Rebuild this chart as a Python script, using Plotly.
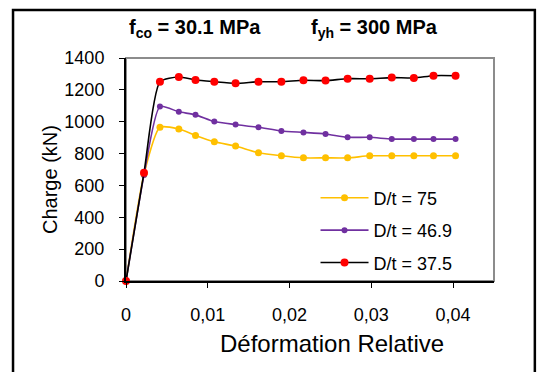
import plotly.graph_objects as go

# ---- data ----
strain = [0, 0.0022, 0.00415, 0.00646, 0.0085, 0.0108, 0.0134, 0.0162, 0.0190,
          0.0217, 0.0244, 0.0271, 0.0298, 0.0325, 0.0352, 0.0376, 0.0403]
load_dt75 = [0, 670, 965, 954, 914, 874, 847, 805, 786, 773, 773, 773, 786, 786, 786, 786, 786]
load_dt469 = [0, 665, 1095, 1062, 1043, 1001, 982, 965, 942, 933, 923, 902, 902, 891, 891, 891, 891]
load_dt375 = [0, 680, 1251, 1281, 1262, 1251, 1241, 1251, 1251, 1260, 1258, 1270, 1270, 1277, 1275, 1289, 1289]

series_names = ["D/t = 75", "D/t = 46.9", "D/t = 37.5"]

x_tickvals = [0, 0.01, 0.02, 0.03, 0.04]
x_ticktext = ["0", "0,01", "0,02", "0,03", "0,04"]
y_tickvals = [0, 200, 400, 600, 800, 1000, 1200, 1400]

FONT = "Liberation Sans, Arial, sans-serif"

fig = go.Figure()

styles = [
    dict(line_color="#FFC000", marker_color="#FFC000", msize=7),
    dict(line_color="#7030A0", marker_color="#7030A0", msize=6),
    dict(line_color="#000000", marker_color="#FF0000", msize=8),
]
for i, (name, ys) in enumerate(zip(series_names, [load_dt75, load_dt469, load_dt375])):
    st = styles[i]
    fig.add_trace(go.Scatter(
        x=strain, y=ys, name=name, mode="lines+markers",
        line=dict(color=st["line_color"], width=1.6, shape="spline", smoothing=0.6),
        marker=dict(color=st["marker_color"], size=st["msize"]),
        legendgroup=f"g{i}",
        cliponaxis=False,
    ))

fig.update_layout(
    width=537, height=372,
    margin=dict(l=126, r=43, t=58, b=91),
    paper_bgcolor="white", plot_bgcolor="white",
    font=dict(family=FONT, color="black", size=18),
    showlegend=True,
    legend=dict(x=0.515, y=0.455, xanchor="left", yanchor="top",
                bgcolor="rgba(0,0,0,0)", font=dict(size=18, family=FONT),
                tracegroupgap=6, itemwidth=48),
    xaxis=dict(range=[0, 0.045], tickvals=x_tickvals, ticktext=x_ticktext,
               showgrid=False, zeroline=False, showline=True, linecolor="black",
               linewidth=2, ticks="outside", ticklen=5, tickcolor="black",
               ticklabelstandoff=11, tickfont=dict(size=18)),
    yaxis=dict(range=[0, 1400], tickvals=y_tickvals,
               showgrid=False, zeroline=False, showline=True, linecolor="black",
               linewidth=2, ticks="outside", ticklen=5, tickcolor="black",
               ticklabelstandoff=11, tickfont=dict(size=18)),
    shapes=[
        dict(type="rect", xref="paper", yref="paper", x0=0, x1=1, y0=0, y1=1,
             line=dict(color="#8c8c8c", width=2), layer="below"),
        dict(type="rect", xref="paper", yref="paper", x0=-0.307, x1=1.111,
             y0=-0.5, y1=1.215, line=dict(color="black", width=2.5), layer="above"),
    ],
    annotations=[
        dict(text="<b>f<sub>co</sub> = 30.1 MPa</b>", xref="paper", yref="paper",
             x=0.1875, y=1.1345, xanchor="center", yanchor="middle", showarrow=False,
             font=dict(size=20, family=FONT)),
        dict(text="<b>f<sub>yh</sub> = 300 MPa</b>", xref="paper", yref="paper",
             x=0.674, y=1.1345, xanchor="center", yanchor="middle", showarrow=False,
             font=dict(size=20, family=FONT)),
        dict(text="Déformation Relative", xref="paper", yref="paper",
             x=0.56, y=-0.2825, xanchor="center", yanchor="middle", showarrow=False,
             font=dict(size=24, family=FONT)),
        dict(text="Charge (kN)", xref="paper", yref="paper", textangle=-90,
             x=-0.2065, y=0.453, xanchor="center", yanchor="middle", showarrow=False,
             font=dict(size=20, family=FONT)),
    ],
)

fig.write_html("out.html")
